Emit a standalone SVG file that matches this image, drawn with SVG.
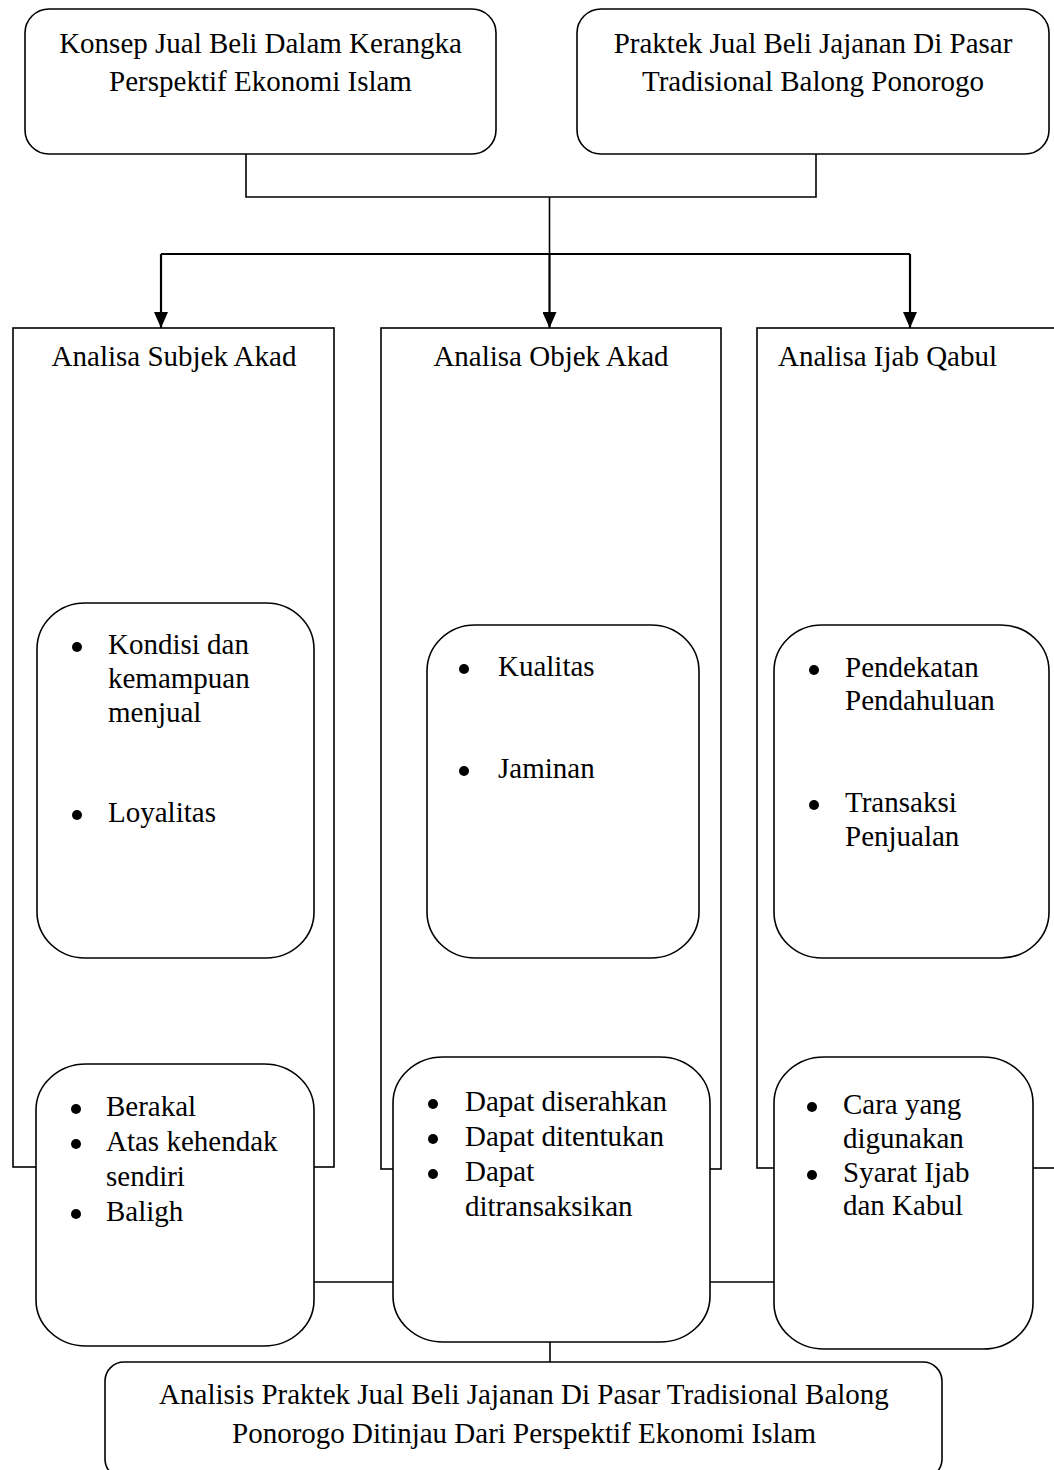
<svg xmlns="http://www.w3.org/2000/svg" width="1054" height="1470" viewBox="0 0 1054 1470">
<style>
  .box { fill: #ffffff; stroke: #000000; stroke-width: 1.6; }
  .col { fill: #ffffff; stroke: #000000; stroke-width: 1.6; }
  .ln { fill: none; stroke: #000000; stroke-width: 1.6; }
  .arr { fill: none; stroke: #000000; stroke-width: 2.2; }
  .dot { fill: #000000; }
  text { font-family: "Liberation Serif", "Times New Roman", serif; font-size: 29px; fill: #000000; }
  .c { text-anchor: middle; }
</style>
<defs>
  <marker id="ah" markerWidth="16" markerHeight="14" refX="16" refY="7" orient="auto" markerUnits="userSpaceOnUse" viewBox="0 0 16 14">
    <path d="M0,0 L16,7 L0,14 Z" fill="#000000"/>
  </marker>
</defs>

<g id="top-left">
  <rect class="box" x="25" y="9" width="471" height="145" rx="24" ry="24"/>
  <text class="c" x="260.5" y="53">Konsep Jual Beli Dalam Kerangka</text>
  <text class="c" x="260.5" y="91">Perspektif Ekonomi Islam</text>
</g>
<g id="top-right">
  <rect class="box" x="577" y="9" width="472" height="145" rx="24" ry="24"/>
  <text class="c" x="813" y="53">Praktek Jual Beli Jajanan Di Pasar</text>
  <text class="c" x="813" y="91">Tradisional Balong Ponorogo</text>
</g>

<g id="col-subjek">
  <rect class="col" x="13" y="328" width="321" height="839"/>
  <text class="c" x="174" y="366">Analisa Subjek Akad</text>
</g>
<g id="col-objek">
  <rect class="col" x="381" y="328" width="340" height="841"/>
  <text class="c" x="551" y="366">Analisa Objek Akad</text>
</g>
<g id="col-ijab">
  <rect class="col" x="757" y="328" width="330" height="840"/>
  <text x="778" y="366">Analisa Ijab Qabul</text>
</g>

<g id="connectors">
  <path class="ln" d="M246,154 V197 H816 V154"/>
  <path class="ln" d="M549.5,197 V254"/>
  <path class="arr" d="M161,254 H910"/>
  <path class="arr" d="M161,254 V328" marker-end="url(#ah)"/>
  <path class="arr" d="M549.5,254 V328" marker-end="url(#ah)"/>
  <path class="arr" d="M910,254 V328" marker-end="url(#ah)"/>
  <path class="ln" d="M314,1282 H393"/>
  <path class="ln" d="M710,1282 H774"/>
  <path class="ln" d="M550,1342 V1362"/>
</g>

<g id="mid-subjek">
  <rect class="box" x="37" y="603" width="277" height="355" rx="48" ry="46"/>
  <circle class="dot" cx="77" cy="647" r="5"/>
  <text x="108" y="654">Kondisi dan</text>
  <text x="108" y="688">kemampuan</text>
  <text x="108" y="722">menjual</text>
  <circle class="dot" cx="77" cy="815" r="5"/>
  <text x="108" y="822">Loyalitas</text>
</g>
<g id="mid-objek">
  <rect class="box" x="427" y="625" width="272" height="333" rx="48" ry="46"/>
  <circle class="dot" cx="464" cy="669" r="5"/>
  <text x="498" y="676">Kualitas</text>
  <circle class="dot" cx="464" cy="771" r="5"/>
  <text x="498" y="778">Jaminan</text>
</g>
<g id="mid-ijab">
  <rect class="box" x="774" y="625" width="275" height="333" rx="48" ry="46"/>
  <circle class="dot" cx="814" cy="670" r="5"/>
  <text x="845" y="677">Pendekatan</text>
  <text x="845" y="710">Pendahuluan</text>
  <circle class="dot" cx="814" cy="805" r="5"/>
  <text x="845" y="812">Transaksi</text>
  <text x="845" y="846">Penjualan</text>
</g>

<g id="bot-subjek">
  <rect class="box" x="36" y="1064" width="278" height="282" rx="50" ry="46"/>
  <circle class="dot" cx="76" cy="1109" r="5"/>
  <text x="106" y="1116">Berakal</text>
  <circle class="dot" cx="76" cy="1144" r="5"/>
  <text x="106" y="1151">Atas kehendak</text>
  <text x="106" y="1186">sendiri</text>
  <circle class="dot" cx="76" cy="1214" r="5"/>
  <text x="106" y="1221">Baligh</text>
</g>
<g id="bot-objek">
  <rect class="box" x="393" y="1057" width="317" height="285" rx="50" ry="46"/>
  <circle class="dot" cx="433" cy="1104" r="5"/>
  <text x="465" y="1111">Dapat diserahkan</text>
  <circle class="dot" cx="433" cy="1139" r="5"/>
  <text x="465" y="1146">Dapat ditentukan</text>
  <circle class="dot" cx="433" cy="1174" r="5"/>
  <text x="465" y="1181">Dapat</text>
  <text x="465" y="1216">ditransaksikan</text>
</g>
<g id="bot-ijab">
  <rect class="box" x="774" y="1057" width="259" height="292" rx="50" ry="46"/>
  <circle class="dot" cx="812" cy="1107" r="5"/>
  <text x="843" y="1114">Cara yang</text>
  <text x="843" y="1148">digunakan</text>
  <circle class="dot" cx="812" cy="1175" r="5"/>
  <text x="843" y="1182">Syarat Ijab</text>
  <text x="843" y="1215">dan Kabul</text>
</g>

<g id="final">
  <rect class="box" x="105" y="1362" width="837" height="116" rx="19" ry="19"/>
  <text class="c" x="524" y="1404">Analisis Praktek Jual Beli Jajanan Di Pasar Tradisional Balong</text>
  <text class="c" x="524" y="1443">Ponorogo Ditinjau Dari Perspektif Ekonomi Islam</text>
</g>
</svg>
